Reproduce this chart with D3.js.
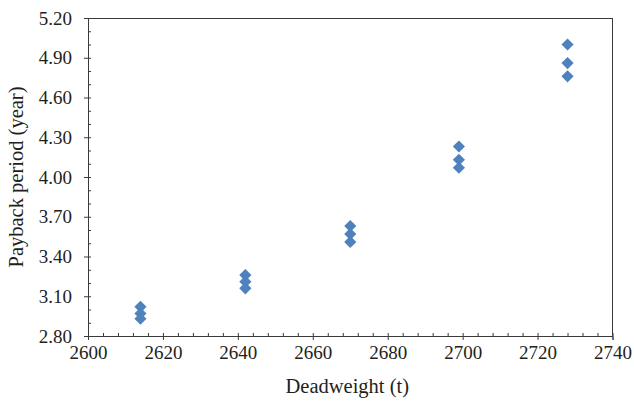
<!DOCTYPE html>
<html>
<head>
<meta charset="utf-8">
<script src="https://cdn.jsdelivr.net/npm/d3@7"></script>
<style>
  html, body { margin: 0; padding: 0; background: #fff; overflow: hidden; }
  svg { display: block; }
  svg text { font-family: "Liberation Serif", "DejaVu Serif", serif; fill: #231f20; }
</style>
</head>
<body>
<div id="chart"></div>
<script>
// deadweight (t) for each group of runs
const deadweights = [2614, 2642, 2670, 2699, 2728];
// payback period (year), three runs per deadweight
const paybackRun1 = [3.02, 3.26, 3.63, 4.23, 5.00];
const paybackRun2 = [2.97, 3.21, 3.57, 4.13, 4.86];
const paybackRun3 = [2.93, 3.16, 3.51, 4.07, 4.76];
const xTicks = [2600, 2620, 2640, 2660, 2680, 2700, 2720, 2740];
const yTicks = [2.80, 3.10, 3.40, 3.70, 4.00, 4.30, 4.60, 4.90, 5.20];

const width = 634, height = 402;
const margin = { top: 18, right: 21.5, bottom: 66, left: 88 };
const innerWidth = width - margin.left - margin.right;
const innerHeight = height - margin.top - margin.bottom;

const svg = d3.select("#chart").append("svg")
    .attr("width", width)
    .attr("height", height);

const g = svg.append("g")
    .attr("transform", `translate(${margin.left},${margin.top})`);

const x = d3.scaleLinear().domain([2600, 2740]).range([0, innerWidth]);
const y = d3.scaleLinear().domain([2.80, 5.20]).range([innerHeight, 0]);

const axisColor = "#3a3a3a";
const tickFont = "19px";
const titleFont = "20.5px";

// minor ticks point inward (no labels)
g.append("g")
    .attr("transform", `translate(0,${innerHeight})`)
    .call(d3.axisBottom(x).tickValues(d3.range(2600, 2741, 4)).tickSize(-3).tickFormat(""))
    .call(a => a.select(".domain").remove())
    .call(a => a.selectAll("text").remove())
    .selectAll("line").attr("stroke", axisColor);

g.append("g")
    .call(d3.axisLeft(y).tickValues(d3.range(28, 53).map(v => v / 10)).tickSize(-3).tickFormat(""))
    .call(a => a.select(".domain").remove())
    .call(a => a.selectAll("text").remove())
    .selectAll("line").attr("stroke", axisColor);

// X axis
const xAxis = g.append("g")
    .attr("transform", `translate(0,${innerHeight})`)
    .call(d3.axisBottom(x).tickValues(xTicks).tickSize(4).tickPadding(6).tickFormat(d3.format("d")));
xAxis.select(".domain").attr("stroke", axisColor);
xAxis.selectAll("line").attr("stroke", axisColor);
xAxis.selectAll("text").style("font-size", tickFont).attr("fill", "#231f20");

// Y axis
const yAxis = g.append("g")
    .call(d3.axisLeft(y).tickValues(yTicks).tickSize(4).tickPadding(12).tickFormat(d3.format(".2f")));
yAxis.select(".domain").attr("stroke", axisColor);
yAxis.selectAll("line").attr("stroke", axisColor);
yAxis.selectAll("text").style("font-size", tickFont).attr("fill", "#231f20");

// frame top and right
g.append("line").attr("x1", 0).attr("x2", innerWidth).attr("y1", 0.5).attr("y2", 0.5)
    .attr("stroke", axisColor);
g.append("line").attr("x1", innerWidth).attr("x2", innerWidth).attr("y1", 0).attr("y2", innerHeight)
    .attr("stroke", axisColor);

// points
const points = [];
[paybackRun1, paybackRun2, paybackRun3].forEach(run => {
    run.forEach((v, i) => points.push({ dw: deadweights[i], pb: v }));
});

const diamond = d3.symbol().type(d3.symbolSquare).size(74);

g.selectAll("path.pt")
    .data(points)
    .join("path")
    .attr("class", "pt")
    .attr("d", diamond)
    .attr("transform", d => `translate(${x(d.dw)},${y(d.pb)}) rotate(45)`)
    .attr("fill", "#4f81bd");

// axis titles
svg.append("text")
    .attr("x", margin.left + innerWidth / 2 - 3)
    .attr("y", 393)
    .attr("text-anchor", "middle")
    .style("font-size", titleFont)
    .text("Deadweight (t)");

svg.append("text")
    .attr("transform", `translate(23,${margin.top + innerHeight / 2}) rotate(-90)`)
    .attr("text-anchor", "middle")
    .style("font-size", titleFont)
    .text("Payback period (year)");
</script>
</body>
</html>
